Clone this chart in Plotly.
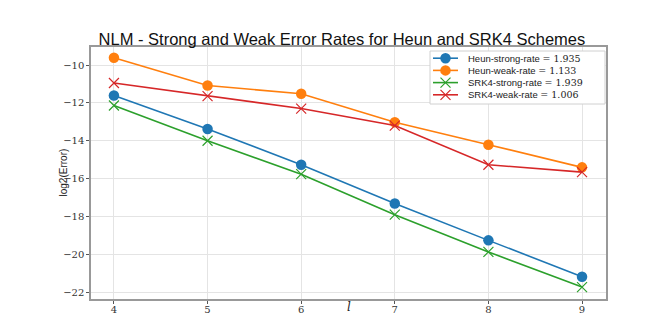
import plotly.graph_objects as go

levels = [4, 5, 6, 7, 8, 9]
heun_strong = [-11.61, -13.38, -15.27, -17.32, -19.27, -21.19]
heun_weak = [-9.61, -11.08, -11.52, -13.02, -14.21, -15.41]
srk4_strong = [-12.14, -14.0, -15.77, -17.91, -19.88, -21.74]
srk4_weak = [-10.95, -11.64, -12.30, -13.20, -15.27, -15.66]

names = ["Heun-strong-rate", "Heun-weak-rate", "SRK4-strong-rate", "SRK4-weak-rate"]
rates = ["1.935", "1.133", "1.939", "1.006"]
values = [heun_strong, heun_weak, srk4_strong, srk4_weak]
colors = ["#1f77b4", "#ff7f0e", "#2ca02c", "#d62728"]
symbols = ["circle", "circle", "x-thin", "x-thin"]

serif = "DejaVu Serif"
sans = "Liberation Sans"

# plot area in pixels (used for the hand drawn legend overlay)
L, R, T, B = 83, 598, 39, 291
W, H = 664, 327


def marker_for(symbol, color):
    if symbol == "circle":
        return dict(symbol="circle", size=10.5, color=color)
    return dict(symbol="x-thin", size=10, color=color, line=dict(color=color, width=1.2))


fig = go.Figure()
for name, vals, color, symbol in zip(names, values, colors, symbols):
    fig.add_trace(
        go.Scatter(
            x=levels,
            y=vals,
            mode="lines+markers",
            name=name,
            line=dict(color=color, width=1.6),
            marker=marker_for(symbol, color),
            showlegend=False,
        )
    )

# legend, drawn on an overlay axis measured in pixels
lx0, lx1, ly0, ly1 = 422, 597, 43, 96
row_y = [50.2, 62.4, 74.6, 86.8]
fig.add_trace(
    go.Scatter(
        x=[lx0, lx1, lx1, lx0, lx0],
        y=[ly0, ly0, ly1, ly1, ly0],
        mode="lines",
        fill="toself",
        fillcolor="white",
        line=dict(color="#d0d0d0", width=1),
        xaxis="x2",
        yaxis="y2",
        showlegend=False,
        hoverinfo="skip",
    )
)
for i, (name, rate, color, symbol) in enumerate(zip(names, rates, colors, symbols)):
    fig.add_trace(
        go.Scatter(
            x=[425, 437.5, 450],
            y=[row_y[i]] * 3,
            mode="lines+markers",
            line=dict(color=color, width=1.6),
            marker=marker_for(symbol, color),
            selectedpoints=[1],
            selected=dict(marker=dict(opacity=1)),
            unselected=dict(marker=dict(opacity=0)),
            xaxis="x2",
            yaxis="y2",
            showlegend=False,
            hoverinfo="skip",
        )
    )
    fig.add_annotation(
        x=459,
        y=row_y[i],
        xref="x2",
        yref="y2",
        xanchor="left",
        yanchor="middle",
        showarrow=False,
        borderpad=0,
        text=f"{name} <span style='font-family:{serif}'>= {rate}</span>",
        font=dict(family=sans, size=9.5, color="#222"),
    )

# axis titles as annotations so they sit where the reference has them
fig.add_annotation(
    x=(47 - L) / (R - L),
    y=0.5,
    xref="paper",
    yref="paper",
    textangle=-90,
    showarrow=False,
    text="log2(Error)",
    font=dict(family=sans, size=10, color="#222"),
)
fig.add_annotation(
    x=(341 - L) / (R - L),
    y=(B - 308) / (B - T),
    xref="paper",
    yref="paper",
    showarrow=False,
    text="<i>l</i>",
    font=dict(family=serif, size=12, color="#222"),
)

fig.update_layout(
    width=W,
    height=H,
    margin=dict(l=L, r=W - R, t=T, b=H - B),
    paper_bgcolor="white",
    plot_bgcolor="white",
    font=dict(family=sans, color="#222"),
    title=dict(
        text="NLM - Strong and Weak Error Rates for Heun and SRK4 Schemes",
        x=(342 - L) / (R - L),
        xanchor="center",
        yref="container",
        y=1 - 31 / H,
        yanchor="middle",
        font=dict(family=sans, size=16.5, color="#111"),
    ),
    showlegend=False,
    xaxis=dict(
        range=[3.755, 9.256],
        tickvals=levels,
        ticks="outside",
        ticklen=3,
        tickcolor="#555",
        tickfont=dict(family=serif, size=10, color="#333"),
        ticklabelstandoff=-3,
        showgrid=True,
        gridcolor="#e4e4e4",
        showline=True,
        linecolor="#999",
        linewidth=1.5,
        mirror=True,
        zeroline=False,
        automargin=False,
    ),
    yaxis=dict(
        range=[-22.37, -9.045],
        tickvals=[-22, -20, -18, -16, -14, -12, -10],
        ticktext=["−22", "−20", "−18", "−16", "−14", "−12", "−10"],
        ticks="outside",
        ticklen=3,
        tickcolor="#555",
        tickfont=dict(family=serif, size=10, color="#333"),
        showgrid=True,
        gridcolor="#e4e4e4",
        showline=True,
        linecolor="#999",
        linewidth=1.5,
        mirror=True,
        zeroline=False,
        automargin=False,
    ),
    xaxis2=dict(overlaying="x", range=[L, R], visible=False, fixedrange=True),
    yaxis2=dict(overlaying="y", range=[B, T], visible=False, fixedrange=True),
)

fig.write_html("out.html")
